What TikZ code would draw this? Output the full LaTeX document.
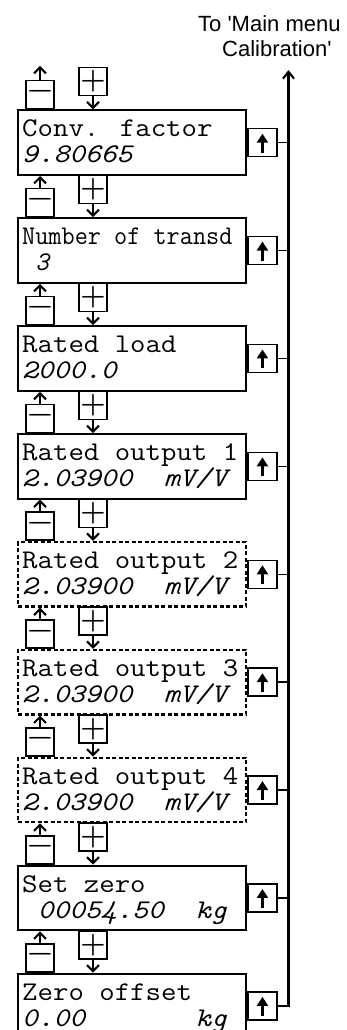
\documentclass[tikz,border=0pt]{standalone}
\usepackage{fontspec}
\usepackage{graphicx}
\usetikzlibrary{arrows.meta,calc}
\newfontfamily\lsans{Liberation Sans}
\newcommand\wid[1]{\scalebox{1.11}[1]{#1}}
\newcommand\nar[1]{\scalebox{0.945}[1]{#1}}
\begin{document}
\begin{tikzpicture}[x=1pt,y=-1pt,
  lcd/.style={draw, line width=2.2pt, minimum width=228pt, minimum height=64.5pt, anchor=north west, inner sep=0pt},
  lcddash/.style={lcd, dash pattern=on 4pt off 2.5pt},
  keybox/.style={draw, line width=1.5pt, minimum width=28pt, minimum height=28pt, inner sep=0pt, font=\rmfamily\bfseries\fontsize{29}{29}\selectfont},
  upkey/.style={draw, line width=1.5pt, minimum width=29pt, minimum height=28pt, inner sep=0pt},
  la/.style={anchor=base west, inner sep=0pt, font=\ttfamily\fontsize{27}{27}\selectfont},
  lb/.style={anchor=base west, inner sep=0pt, font=\ttfamily\itshape\fontsize{27}{27}\selectfont},
  flow/.style={line width=2.1pt, -{Straight Barb[length=6pt,width=12pt]}},
  conn/.style={line width=1.5pt},
  mainline/.style={line width=2.1pt, -{Straight Barb[length=7pt,width=11pt]}},
  ttl/.style={anchor=base west, inner sep=0pt, font=\lsans\fontsize{22}{25}\selectfont}
]
\useasboundingbox (0,0) rectangle (347,1030);

% title
\node[ttl] (title1) at (198,31.5) {To 'Main menu};
\node[ttl] (title2) at (222,56.5) {Calibration'};

% display boxes
\node[lcd] (b0) at (17,109.3) {};
\node[lcd] (b1) at (17,217.2) {};
\node[lcd] (b2) at (17,325.1) {};
\node[lcd] (b3) at (17,433.0) {};
\node[lcddash] (b4) at (17,540.9) {};
\node[lcddash] (b5) at (17,648.8) {};
\node[lcddash] (b6) at (17,756.7) {};
\node[lcd] (b7) at (17,864.6) {};
\node[lcd] (b8) at (17,972.5) {};

% display texts
\node[la] (t0a) at ([xshift=5pt,yshift=-27.5pt]b0.north west) {\wid{Conv. factor}};
\node[lb] (t0b) at ([xshift=5pt,yshift=-53.5pt]b0.north west) {\wid{9.80665}};
\node[la] (t1a) at ([xshift=5pt,yshift=-27.5pt]b1.north west) {\nar{Number of transd}};
\node[lb] (t1b) at ([xshift=5pt,yshift=-53.5pt]b1.north west) {\nar{~3}};
\node[la] (t2a) at ([xshift=5pt,yshift=-27.5pt]b2.north west) {\wid{Rated load}};
\node[lb] (t2b) at ([xshift=5pt,yshift=-53.5pt]b2.north west) {\wid{2000.0}};
\node[la] (t3a) at ([xshift=5pt,yshift=-27.5pt]b3.north west) {\wid{Rated output 1}};
\node[lb] (t3b) at ([xshift=5pt,yshift=-53.5pt]b3.north west) {\wid{2.03900~~mV/V}};
\node[la] (t4a) at ([xshift=5pt,yshift=-27.5pt]b4.north west) {\wid{Rated output 2}};
\node[lb] (t4b) at ([xshift=5pt,yshift=-53.5pt]b4.north west) {\wid{2.03900~~mV/V}};
\node[la] (t5a) at ([xshift=5pt,yshift=-27.5pt]b5.north west) {\wid{Rated output 3}};
\node[lb] (t5b) at ([xshift=5pt,yshift=-53.5pt]b5.north west) {\wid{2.03900~~mV/V}};
\node[la] (t6a) at ([xshift=5pt,yshift=-27.5pt]b6.north west) {\wid{Rated output 4}};
\node[lb] (t6b) at ([xshift=5pt,yshift=-53.5pt]b6.north west) {\wid{2.03900~~mV/V}};
\node[la] (t7a) at ([xshift=5pt,yshift=-27.5pt]b7.north west) {\wid{Set zero}};
\node[lb] (t7b) at ([xshift=5pt,yshift=-53.5pt]b7.north west) {\wid{~00054.50~~kg}};
\node[la] (t8a) at ([xshift=5pt,yshift=-27.5pt]b8.north west) {\wid{Zero offset}};
\node[lb] (t8b) at ([xshift=5pt,yshift=-53.5pt]b8.north west) {\wid{0.00~~~~~~~kg}};

% keys
\foreach \i in {0,...,8} {
  \node[keybox, anchor=south] (m\i) at ($(b\i.north west)+(23,0)$) {−};
  \node[keybox, anchor=north] (p\i) at ($(b\i.north west)+(76,-42.4)$) {+};
  \node[upkey, anchor=west] (u\i) at (b\i.east) {};
  \draw[flow] (p\i.south) -- (p\i.south |- b\i.north);
  \draw[line width=2.2pt, -{Triangle[length=9pt,width=11pt]}] ([yshift=-10pt]u\i.center) -- ([yshift=9pt]u\i.center);
}
\coordinate (e0) at (40,66);
\draw[flow] (m0.north) -- (e0);
\foreach \i in {1,...,8} {
  \pgfmathtruncatemacro\j{\i-1}
  \draw[flow] (m\i.north) -- (m\i.north |- b\j.south);
}

% return line
\coordinate (top) at (288.5,70);
\draw[mainline] (u8.east) -| (top);
\foreach \i in {0,...,7} {
  \draw[conn] (u\i.east) -- (u\i.east -| top);
}
\end{tikzpicture}
\end{document}
